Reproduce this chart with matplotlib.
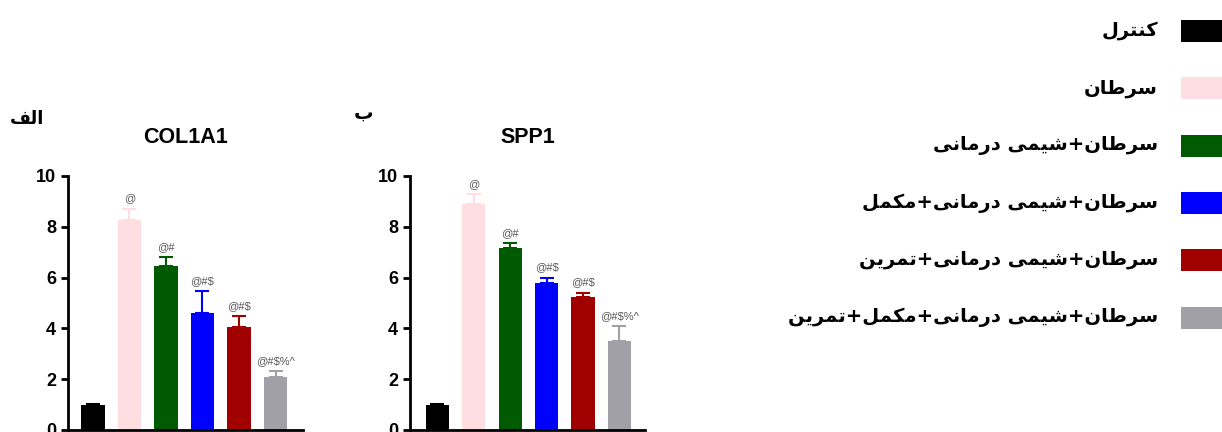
import matplotlib
matplotlib.use('Agg')
import matplotlib.pyplot as plt
from matplotlib.patches import Rectangle

# group names (logical order) and colours
groups = ['کنترل', 'سرطان', 'سرطان+شیمی درمانی', 'سرطان+شیمی درمانی+مکمل',
          'سرطان+شیمی درمانی+تمرین', 'سرطان+شیمی درمانی+مکمل+تمرین']
colors = ['#000000', '#FFDDE0', '#005A00', '#0000FF', '#A00000', '#A0A0A6']

col1a1_mean = [0.97, 8.27, 6.47, 4.59, 4.07, 2.1]
col1a1_err = [0.05, 0.45, 0.33, 0.89, 0.4, 0.23]
col1a1_sig = ['', '@', '@#', '@#$', '@#$', '@#$%^']

spp1_mean = [1.0, 8.88, 7.18, 5.8, 5.22, 3.5]
spp1_err = [0.04, 0.4, 0.17, 0.2, 0.19, 0.6]
spp1_sig = ['', '@', '@#', '@#$', '@#$', '@#$%^']

# minimal arabic/persian shaping -> presentation forms (iso, fin, ini, med)
FORMS = {
    'ا': ('\uFE8D', '\uFE8E', None, None),
    'ب': ('\uFE8F', '\uFE90', '\uFE91', '\uFE92'),
    'ت': ('\uFE95', '\uFE96', '\uFE97', '\uFE98'),
    'د': ('\uFEA9', '\uFEAA', None, None),
    'ر': ('\uFEAD', '\uFEAE', None, None),
    'س': ('\uFEB1', '\uFEB2', '\uFEB3', '\uFEB4'),
    'ش': ('\uFEB5', '\uFEB6', '\uFEB7', '\uFEB8'),
    'ط': ('\uFEC1', '\uFEC2', '\uFEC3', '\uFEC4'),
    'ف': ('\uFED1', '\uFED2', '\uFED3', '\uFED4'),
    'ل': ('\uFEDD', '\uFEDE', '\uFEDF', '\uFEE0'),
    'م': ('\uFEE1', '\uFEE2', '\uFEE3', '\uFEE4'),
    'ن': ('\uFEE5', '\uFEE6', '\uFEE7', '\uFEE8'),
    'ک': ('\uFB8E', '\uFB8F', '\uFB90', '\uFB91'),
    'ی': ('\uFBFC', '\uFBFD', '\uFBFE', '\uFBFF'),
}


def shape(s):
    out = []
    for i, c in enumerate(s):
        if c not in FORMS:
            out.append(c)
            continue
        f = FORMS[c]
        prev = s[i - 1] if i > 0 else ''
        nxt = s[i + 1] if i + 1 < len(s) else ''
        jp = prev in FORMS and FORMS[prev][2] is not None
        jn = f[2] is not None and nxt in FORMS
        if jp and jn:
            out.append(f[3])
        elif jp:
            out.append(f[1])
        elif jn:
            out.append(f[2])
        else:
            out.append(f[0])
    return ''.join(reversed(out))


fig = plt.figure(figsize=(12.22, 4.32), dpi=100)
W, H = 1222, 432


def panel(left, right, mean, err, sig, title, xlim):
    ax = fig.add_axes([left / W, 2 / H, (right - left) / W, (430 - 176) / H])
    x = range(len(mean))
    ax.bar(x, mean, width=0.64, color=colors)
    for i in x:
        ax.errorbar(i, mean[i], yerr=[[0], [err[i]]], color=colors[i],
                    capsize=5, elinewidth=1.5, capthick=1.5)
        if sig[i]:
            ax.text(i, mean[i] + err[i] + 0.2, sig[i], ha='center', va='bottom',
                    fontsize=8, color='#555555', family='Liberation Sans')
    ax.set_xlim(*xlim)
    ax.set_ylim(0, 10)
    ax.set_yticks([0, 2, 4, 6, 8, 10])
    ax.set_xticks([])
    for s in ['top', 'right']:
        ax.spines[s].set_visible(False)
    for s in ['left', 'bottom']:
        ax.spines[s].set_linewidth(2)
    ax.tick_params(axis='y', width=2, length=5, labelsize=13)
    for lab in ax.get_yticklabels():
        lab.set_fontweight('bold')
        lab.set_family('Liberation Sans')
    ax.set_title(title, fontsize=15.5, fontweight='bold', family='Liberation Sans', pad=24)
    return ax


panel(68, 303, col1a1_mean, col1a1_err, col1a1_sig, 'COL1A1', (-0.68, 5.75))
panel(410, 645, spp1_mean, spp1_err, spp1_sig, 'SPP1', (-0.75, 5.7))

fig.text(10 / W, 1 - 119 / H, shape('الف'), fontsize=13, fontweight='bold',
         family='DejaVu Sans', va='center', ha='left')
fig.text(354 / W, 1 - 113 / H, shape('ب'), fontsize=14, fontweight='bold',
         family='DejaVu Sans', va='center', ha='left')

# legend drawn by hand: patch on right, right-aligned text
for k, (g, c) in enumerate(zip(groups, colors)):
    yc = 31 + k * 57.3
    fig.patches.append(Rectangle((1181 / W, 1 - (yc + 11) / H), 50 / W, 22 / H,
                                 transform=fig.transFigure, facecolor=c,
                                 edgecolor='none'))
    fig.text(1158 / W, 1 - yc / H, shape(g), fontsize=14, fontweight='bold',
             family='DejaVu Sans', ha='right', va='center')

fig.savefig('out.png', dpi=100)
